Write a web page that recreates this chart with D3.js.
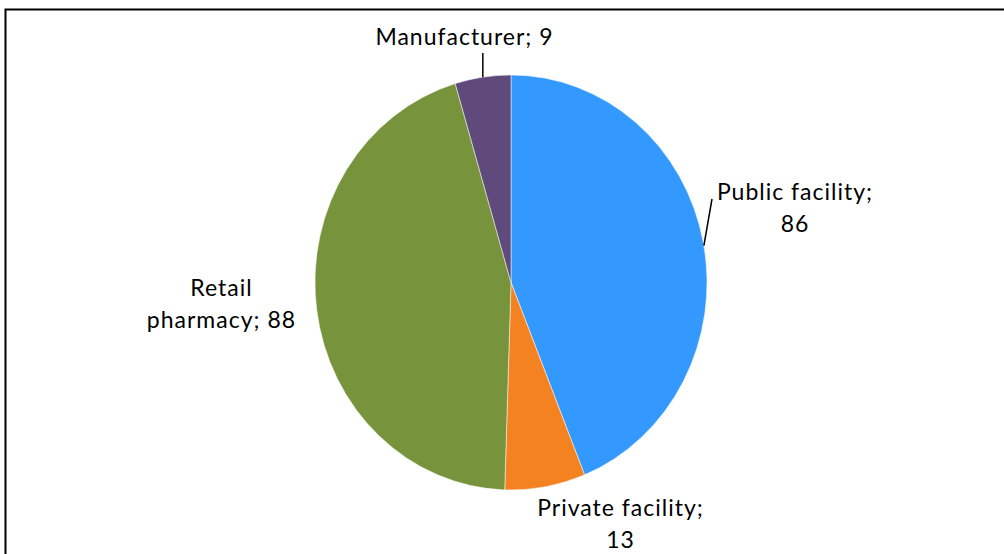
<!DOCTYPE html>
<html>
<head>
<meta charset="utf-8">
<script src="https://cdn.jsdelivr.net/npm/d3@7"></script>
<style>
  html, body { margin: 0; padding: 0; background: #fff; }
  svg { display: block; }
  text { font-family: "Lato", "Open Sans", sans-serif; fill: #000; }
</style>
</head>
<body>
<svg id="chart" width="1004" height="554"></svg>
<script>
// Source of supply and count of outlets
const categories = ["Public facility", "Private facility", "Retail pharmacy", "Manufacturer"];
const counts = [86, 13, 88, 9];
const colors = ["#3399FF", "#F58220", "#77933C", "#604A7B"];
// Label lines as displayed beside each slice
const labelLines = [
  ["Public facility;", "86"],
  ["Private facility;", "13"],
  ["Retail", "pharmacy; 88"],
  ["Manufacturer; 9"]
];

const svg = d3.select("#chart");
const W = 1004, H = 554;

// outer frame
svg.append("rect")
  .attr("x", 5.5).attr("y", 9.5)
  .attr("width", W + 20).attr("height", H + 20)
  .attr("fill", "#fff")
  .attr("stroke", "#000").attr("stroke-width", 2);

const cx = 511, cy = 282.5, r = 196, sy = 207.5 / 196;

const pie = d3.pie().sort(null).value(d => d)(counts);
const arc = d3.arc().innerRadius(0).outerRadius(r);

const g = svg.append("g")
  .attr("transform", `translate(${cx},${cy}) scale(1,${sy})`);

g.selectAll("path")
  .data(pie)
  .join("path")
  .attr("d", arc)
  .attr("fill", (d, i) => colors[i])
  .attr("stroke", "#fff")
  .attr("stroke-width", 0.5)
  .attr("vector-effect", "non-scaling-stroke");

// label placement (centre x, first baseline)
const labelPos = [
  { x: 795, y: 200 },
  { x: 620.5, y: 516 },
  { x: 221.5, y: 296 },
  { x: 464.5, y: 45 }
];
const lineGap = 31.5;

labelLines.forEach((lines, i) => {
  const t = svg.append("text")
    .attr("text-anchor", "middle")
    .attr("font-size", 23)
    .attr("letter-spacing", 1);
  lines.forEach((s, k) => {
    t.append("tspan")
      .attr("x", labelPos[i].x)
      .attr("y", labelPos[i].y + k * lineGap)
      .text(s);
  });
});

// leader lines from slice edge toward labels
function edgePoint(d, frac) {
  const a = d.startAngle + (d.endAngle - d.startAngle) * frac;
  return [cx + Math.sin(a) * r, cy - Math.cos(a) * r * sy];
}
const leaders = [
  { slice: 0, frac: 0.505, end: [712, 199] },
  { slice: 3, frac: 0.5, end: null, top: 53 }
];
leaders.forEach(L => {
  const p = edgePoint(pie[L.slice], L.frac);
  const end = L.end || [p[0], L.top];
  svg.append("line")
    .attr("x1", p[0]).attr("y1", p[1])
    .attr("x2", end[0]).attr("y2", end[1])
    .attr("stroke", "#000").attr("stroke-width", 1.5);
});
</script>
</body>
</html>
